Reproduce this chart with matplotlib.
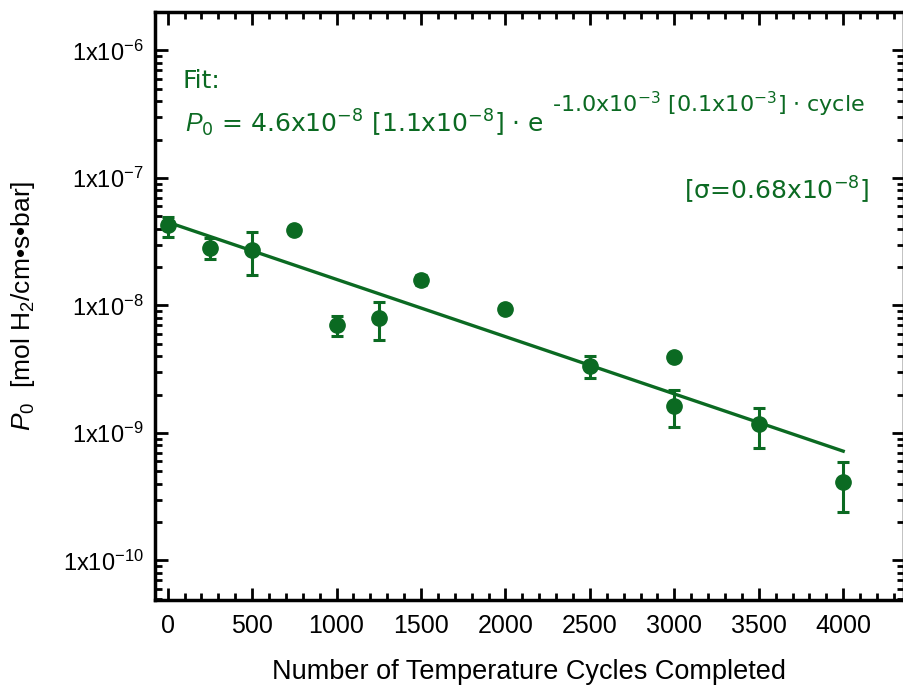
import numpy as np
import matplotlib
matplotlib.use('Agg')
import matplotlib.pyplot as plt
from matplotlib.ticker import MultipleLocator, LogLocator, FuncFormatter, NullFormatter

# ---- Data ----
cycles = [0, 250, 500, 750, 1000, 1250, 1500, 2000, 2500, 3000, 3000, 3500, 4000]
p0 = [4.24e-8, 2.80e-8, 2.72e-8, 3.92e-8, 7.0e-9, 8.0e-9, 1.59e-8, 9.4e-9,
      3.34e-9, 3.96e-9, 1.64e-9, 1.17e-9, 4.14e-10]
p0_hi = [4.96e-8, 3.35e-8, 3.76e-8, 3.92e-8, 8.3e-9, 1.07e-8, 1.74e-8, 9.4e-9,
         4.05e-9, 3.96e-9, 2.18e-9, 1.58e-9, 5.97e-10]
p0_lo = [3.46e-8, 2.30e-8, 1.74e-8, 3.92e-8, 5.75e-9, 5.35e-9, 1.45e-8, 9.4e-9,
         2.69e-9, 3.96e-9, 1.11e-9, 7.56e-10, 2.41e-10]

# exponential fit, straight on log axis
fit_x = [0, 4000]
fit_y = [4.5e-8, 7.2e-10]

GREEN = '#0b6a22'

plt.rcParams['font.family'] = ['Liberation Sans', 'DejaVu Sans']
plt.rcParams['mathtext.fontset'] = 'custom'
plt.rcParams['mathtext.it'] = 'Liberation Sans:italic'
plt.rcParams['mathtext.default'] = 'regular'

fig = plt.figure(figsize=(9.04, 6.87), dpi=100)
ax = fig.add_axes([155 / 904, 1 - 600 / 687, 749 / 904, 588 / 687])

y = np.array(p0)
yerr = [y - np.array(p0_lo), np.array(p0_hi) - y]
ax.errorbar(cycles, p0, yerr=yerr, fmt='o', color=GREEN, ms=11,
            elinewidth=2.2, capsize=4, capthick=2.2, zorder=3)
ax.plot(fit_x, fit_y, color=GREEN, lw=2.4, zorder=2)

ax.set_yscale('log')
ax.set_xlim(-75, 4360)
ax.set_ylim(4.9e-11, 2.0e-6)

ax.xaxis.set_major_locator(MultipleLocator(500))
ax.xaxis.set_minor_locator(MultipleLocator(100))
ax.yaxis.set_major_locator(LogLocator(base=10))
ax.yaxis.set_minor_locator(LogLocator(base=10, subs=np.arange(2, 10)))
ax.yaxis.set_minor_formatter(NullFormatter())
ax.yaxis.set_major_formatter(FuncFormatter(lambda v, p: r'1x10$^{%d}$' % round(np.log10(v))))

ax.tick_params(which='both', direction='in', top=True, right=True, width=2)
ax.tick_params(which='major', length=9, pad=8)
ax.tick_params(axis='x', which='major', pad=10)
ax.tick_params(axis='y', which='major', labelsize=17)
ax.tick_params(axis='x', which='major', labelsize=18)
ax.tick_params(which='minor', length=5)
for s in ax.spines.values():
    s.set_linewidth(2.5)

ax.set_xlabel('Number of Temperature Cycles Completed', fontsize=19.5, labelpad=15)
ax.set_ylabel(r'$\mathit{P}_{0}$  [mol H$_2$/cm•s•bar]', fontsize=19)
ax.yaxis.set_label_coords(-0.157, 0.5)

# ---- Fit annotation ----
ann = dict(color=GREEN, family='DejaVu Sans')
ax.text(0.037, 0.871, 'Fit:', transform=ax.transAxes, fontsize=18, **ann)
t1 = ax.text(0.04, 0.796, r'$\mathit{P}_{0}$ = 4.6x10$^{-8}$ [1.1x10$^{-8}$]$\,\cdot\,$e',
             transform=ax.transAxes, fontsize=18, **ann)
ax.annotate(r'-1.0x10$^{-3}$ [0.1x10$^{-3}$]$\,\cdot\,$cycle', xy=(1, 0), xycoords=t1,
            xytext=(6, 19), textcoords='offset points', fontsize=16, **ann)
ax.text(0.953, 0.680, r'[$\sigma$=0.68x10$^{-8}$]', transform=ax.transAxes,
        fontsize=18, ha='right', **ann)

fig.savefig('out.png', dpi=100)
